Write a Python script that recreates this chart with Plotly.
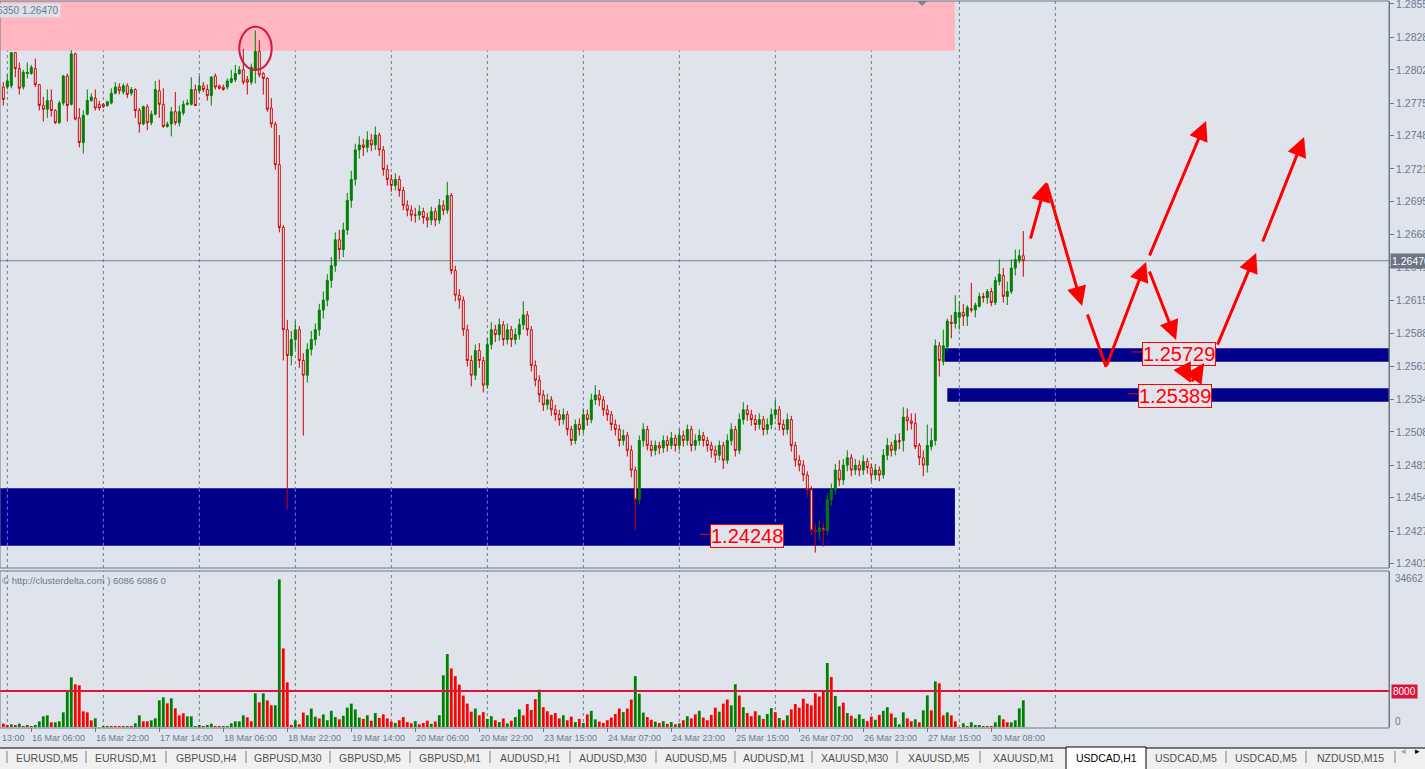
import plotly.graph_objects as go

# ---------------------------------------------------------------- data (H1 bars, index 0..255)
bar_index = list(range(256))

open_ = [
    1.2788, 1.2788, 1.2789, 1.2816, 1.2803, 1.2788, 1.2799, 1.2799, 1.2803, 1.2790,
    1.2773, 1.2770, 1.2777, 1.2769, 1.2759, 1.2775, 1.2797, 1.2774, 1.2815, 1.2763,
    1.2743, 1.2766, 1.2777, 1.2779, 1.2774, 1.2774, 1.2773, 1.2775, 1.2783, 1.2788,
    1.2784, 1.2789, 1.2783, 1.2786, 1.2769, 1.2758, 1.2772, 1.2759, 1.2766, 1.2785,
    1.2774, 1.2756, 1.2758, 1.2768, 1.2759, 1.2767, 1.2774, 1.2774, 1.2786, 1.2785,
    1.2789, 1.2786, 1.2781, 1.2797, 1.2789, 1.2788, 1.2788, 1.2792, 1.2794, 1.2799,
    1.2802, 1.2794, 1.2792, 1.2802, 1.2817, 1.2799, 1.2795, 1.2771, 1.2758, 1.2725,
    1.2674, 1.2591, 1.2570, 1.2583, 1.2591, 1.2566, 1.2554, 1.2575, 1.2583, 1.2591,
    1.2607, 1.2615, 1.2631, 1.2643, 1.2664, 1.2656, 1.2672, 1.2696, 1.2713, 1.2737,
    1.2741, 1.2739, 1.2745, 1.2741, 1.2749, 1.2737, 1.2721, 1.2713, 1.2708, 1.2713,
    1.2704, 1.2692, 1.2688, 1.2684, 1.2684, 1.2687, 1.2682, 1.2680, 1.2687, 1.2680,
    1.2692, 1.2688, 1.2700, 1.2639, 1.2619, 1.2615, 1.2591, 1.2566, 1.2554, 1.2574,
    1.2566, 1.2546, 1.2579, 1.2591, 1.2587, 1.2595, 1.2583, 1.2591, 1.2583, 1.2587,
    1.2595, 1.2603, 1.2591, 1.2562, 1.2550, 1.2538, 1.2530, 1.2534, 1.2526, 1.2522,
    1.2518, 1.2522, 1.2510, 1.2501, 1.2514, 1.2510, 1.2522, 1.2518, 1.2534, 1.2538,
    1.2534, 1.2526, 1.2522, 1.2514, 1.2510, 1.2501, 1.2505, 1.2493, 1.2477, 1.2453,
    1.2501, 1.2510, 1.2497, 1.2493, 1.2497, 1.2495, 1.2501, 1.2497, 1.2503, 1.2497,
    1.2505, 1.2501, 1.2510, 1.2497, 1.2501, 1.2505, 1.2501, 1.2497, 1.2493, 1.2489,
    1.2497, 1.2485, 1.2501, 1.2510, 1.2493, 1.2518, 1.2526, 1.2522, 1.2518, 1.2514,
    1.2518, 1.2510, 1.2514, 1.2522, 1.2526, 1.2514, 1.2510, 1.2518, 1.2497, 1.2485,
    1.2481, 1.2473, 1.2461, 1.2428, 1.2427, 1.2430, 1.2428, 1.2453, 1.2461, 1.2477,
    1.2469, 1.2481, 1.2487, 1.2477, 1.2481, 1.2477, 1.2484, 1.2479, 1.2473, 1.2477,
    1.2473, 1.2489, 1.2497, 1.2493, 1.2501, 1.2501, 1.2520, 1.2517, 1.2515, 1.2497,
    1.2487, 1.2481, 1.2496, 1.2501, 1.2578, 1.2565, 1.2577, 1.2597, 1.2596, 1.2601,
    1.2605, 1.2602, 1.2608, 1.2607, 1.2610, 1.2618, 1.2617, 1.2622, 1.2613, 1.2630,
    1.2635, 1.2618, 1.2622, 1.2641, 1.2647, 1.2651]
high = [
    1.2792, 1.2798, 1.2816, 1.2816, 1.2808, 1.2802, 1.2808, 1.2806, 1.2811, 1.2790,
    1.2780, 1.2786, 1.2786, 1.2770, 1.2777, 1.2798, 1.2799, 1.2818, 1.2816, 1.2771,
    1.2769, 1.2786, 1.2783, 1.2786, 1.2777, 1.2775, 1.2777, 1.2787, 1.2792, 1.2791,
    1.2791, 1.2791, 1.2788, 1.2787, 1.2771, 1.2773, 1.2774, 1.2769, 1.2793, 1.2794,
    1.2787, 1.2760, 1.2772, 1.2784, 1.2773, 1.2777, 1.2778, 1.2796, 1.2790, 1.2797,
    1.2792, 1.2790, 1.2797, 1.2799, 1.2790, 1.2790, 1.2795, 1.2802, 1.2806, 1.2805,
    1.2819, 1.2797, 1.2807, 1.2834, 1.2826, 1.2800, 1.2796, 1.2779, 1.2760, 1.2749,
    1.2676, 1.2599, 1.2590, 1.2598, 1.2594, 1.2572, 1.2580, 1.2590, 1.2596, 1.2612,
    1.2622, 1.2636, 1.2650, 1.2670, 1.2672, 1.2678, 1.2702, 1.2720, 1.2742, 1.2748,
    1.2746, 1.2752, 1.2750, 1.2756, 1.2751, 1.2740, 1.2725, 1.2717, 1.2718, 1.2716,
    1.2707, 1.2696, 1.2692, 1.2690, 1.2692, 1.2690, 1.2686, 1.2691, 1.2690, 1.2697,
    1.2696, 1.2711, 1.2702, 1.2643, 1.2624, 1.2618, 1.2595, 1.2570, 1.2579, 1.2580,
    1.2569, 1.2584, 1.2597, 1.2595, 1.2600, 1.2598, 1.2596, 1.2594, 1.2592, 1.2600,
    1.2614, 1.2606, 1.2594, 1.2566, 1.2554, 1.2542, 1.2539, 1.2537, 1.2530, 1.2526,
    1.2527, 1.2525, 1.2513, 1.2518, 1.2519, 1.2527, 1.2526, 1.2539, 1.2546, 1.2542,
    1.2537, 1.2530, 1.2525, 1.2518, 1.2514, 1.2510, 1.2508, 1.2497, 1.2480, 1.2505,
    1.2515, 1.2513, 1.2501, 1.2501, 1.2500, 1.2505, 1.2505, 1.2508, 1.2506, 1.2510,
    1.2509, 1.2514, 1.2513, 1.2506, 1.2510, 1.2508, 1.2504, 1.2500, 1.2497, 1.2501,
    1.2500, 1.2506, 1.2515, 1.2513, 1.2523, 1.2532, 1.2530, 1.2526, 1.2522, 1.2523,
    1.2521, 1.2519, 1.2527, 1.2534, 1.2529, 1.2518, 1.2523, 1.2521, 1.2500, 1.2489,
    1.2485, 1.2476, 1.2464, 1.2433, 1.2436, 1.2434, 1.2458, 1.2466, 1.2482, 1.2485,
    1.2486, 1.2493, 1.2490, 1.2486, 1.2485, 1.2489, 1.2487, 1.2482, 1.2482, 1.2480,
    1.2494, 1.2503, 1.2500, 1.2506, 1.2507, 1.2528, 1.2527, 1.2523, 1.2523, 1.2499,
    1.2493, 1.2514, 1.2511, 1.2583, 1.2581, 1.2591, 1.2600, 1.2603, 1.2619, 1.2614,
    1.2612, 1.2611, 1.2629, 1.2613, 1.2621, 1.2621, 1.2624, 1.2625, 1.2634, 1.2648,
    1.2641, 1.2630, 1.2648, 1.2656, 1.2656, 1.2671]
low = [
    1.2773, 1.2786, 1.2787, 1.2796, 1.2782, 1.2786, 1.2795, 1.2798, 1.2788, 1.2769,
    1.2760, 1.2763, 1.2764, 1.2758, 1.2758, 1.2773, 1.2760, 1.2773, 1.2761, 1.2739,
    1.2734, 1.2765, 1.2776, 1.2769, 1.2769, 1.2771, 1.2772, 1.2774, 1.2782, 1.2782,
    1.2782, 1.2779, 1.2781, 1.2763, 1.2751, 1.2757, 1.2753, 1.2757, 1.2765, 1.2763,
    1.2755, 1.2755, 1.2748, 1.2757, 1.2756, 1.2765, 1.2773, 1.2773, 1.2773, 1.2783,
    1.2784, 1.2777, 1.2773, 1.2786, 1.2786, 1.2785, 1.2786, 1.2791, 1.2792, 1.2798,
    1.2790, 1.2782, 1.2790, 1.2791, 1.2796, 1.2782, 1.2768, 1.2755, 1.2721, 1.2670,
    1.2566, 1.2445, 1.2562, 1.2575, 1.2560, 1.2505, 1.2548, 1.2570, 1.2578, 1.2586,
    1.2600, 1.2610, 1.2625, 1.2638, 1.2648, 1.2650, 1.2668, 1.2690, 1.2708, 1.2730,
    1.2732, 1.2735, 1.2736, 1.2737, 1.2732, 1.2716, 1.2708, 1.2703, 1.2704, 1.2699,
    1.2688, 1.2683, 1.2679, 1.2678, 1.2680, 1.2677, 1.2674, 1.2676, 1.2675, 1.2677,
    1.2684, 1.2685, 1.2636, 1.2614, 1.2608, 1.2586, 1.2561, 1.2545, 1.2550, 1.2560,
    1.2540, 1.2543, 1.2575, 1.2581, 1.2582, 1.2578, 1.2579, 1.2577, 1.2579, 1.2583,
    1.2591, 1.2586, 1.2557, 1.2545, 1.2532, 1.2525, 1.2526, 1.2521, 1.2517, 1.2513,
    1.2514, 1.2505, 1.2497, 1.2498, 1.2505, 1.2507, 1.2513, 1.2515, 1.2530, 1.2529,
    1.2521, 1.2517, 1.2509, 1.2505, 1.2496, 1.2497, 1.2488, 1.2471, 1.2428, 1.2449,
    1.2496, 1.2493, 1.2488, 1.2489, 1.2490, 1.2491, 1.2492, 1.2494, 1.2492, 1.2493,
    1.2496, 1.2497, 1.2492, 1.2493, 1.2497, 1.2496, 1.2492, 1.2487, 1.2483, 1.2485,
    1.2478, 1.2482, 1.2497, 1.2488, 1.2490, 1.2514, 1.2517, 1.2513, 1.2509, 1.2510,
    1.2505, 1.2506, 1.2510, 1.2518, 1.2509, 1.2505, 1.2506, 1.2492, 1.2480, 1.2476,
    1.2468, 1.2455, 1.2424, 1.2410, 1.2420, 1.2415, 1.2424, 1.2448, 1.2457, 1.2464,
    1.2465, 1.2476, 1.2472, 1.2473, 1.2472, 1.2473, 1.2474, 1.2468, 1.2469, 1.2468,
    1.2470, 1.2485, 1.2488, 1.2489, 1.2494, 1.2492, 1.2509, 1.2510, 1.2494, 1.2481,
    1.2472, 1.2475, 1.2493, 1.2497, 1.2553, 1.2562, 1.2574, 1.2584, 1.2592, 1.2591,
    1.2594, 1.2594, 1.2605, 1.2601, 1.2609, 1.2613, 1.2612, 1.2610, 1.2611, 1.2627,
    1.2613, 1.2611, 1.2620, 1.2635, 1.2645, 1.2634]
close = [
    1.2778, 1.2793, 1.2816, 1.2803, 1.2787, 1.2800, 1.2800, 1.2804, 1.2790, 1.2773,
    1.2770, 1.2777, 1.2769, 1.2759, 1.2775, 1.2797, 1.2773, 1.2815, 1.2762, 1.2743,
    1.2765, 1.2777, 1.2780, 1.2771, 1.2771, 1.2772, 1.2776, 1.2783, 1.2788, 1.2785,
    1.2789, 1.2782, 1.2786, 1.2769, 1.2758, 1.2772, 1.2759, 1.2766, 1.2786, 1.2774,
    1.2756, 1.2758, 1.2768, 1.2759, 1.2768, 1.2774, 1.2775, 1.2786, 1.2773, 1.2789,
    1.2786, 1.2781, 1.2796, 1.2788, 1.2787, 1.2786, 1.2793, 1.2795, 1.2799, 1.2802,
    1.2792, 1.2792, 1.2804, 1.2817, 1.2798, 1.2795, 1.2770, 1.2758, 1.2725, 1.2674,
    1.2591, 1.2570, 1.2583, 1.2591, 1.2566, 1.2554, 1.2575, 1.2583, 1.2591, 1.2607,
    1.2615, 1.2631, 1.2643, 1.2664, 1.2656, 1.2672, 1.2696, 1.2713, 1.2737, 1.2741,
    1.2739, 1.2745, 1.2741, 1.2749, 1.2737, 1.2721, 1.2713, 1.2708, 1.2713, 1.2704,
    1.2692, 1.2688, 1.2684, 1.2684, 1.2687, 1.2682, 1.2680, 1.2687, 1.2680, 1.2692,
    1.2688, 1.2700, 1.2639, 1.2619, 1.2615, 1.2591, 1.2566, 1.2554, 1.2574, 1.2566,
    1.2546, 1.2579, 1.2591, 1.2587, 1.2595, 1.2583, 1.2591, 1.2583, 1.2587, 1.2595,
    1.2603, 1.2591, 1.2562, 1.2550, 1.2538, 1.2530, 1.2534, 1.2526, 1.2522, 1.2518,
    1.2522, 1.2510, 1.2501, 1.2514, 1.2510, 1.2522, 1.2518, 1.2534, 1.2538, 1.2534,
    1.2526, 1.2522, 1.2514, 1.2510, 1.2501, 1.2505, 1.2493, 1.2477, 1.2453, 1.2501,
    1.2510, 1.2497, 1.2493, 1.2497, 1.2495, 1.2501, 1.2497, 1.2503, 1.2497, 1.2505,
    1.2501, 1.2510, 1.2497, 1.2501, 1.2505, 1.2501, 1.2497, 1.2493, 1.2489, 1.2497,
    1.2485, 1.2501, 1.2510, 1.2493, 1.2518, 1.2526, 1.2522, 1.2518, 1.2514, 1.2518,
    1.2510, 1.2514, 1.2522, 1.2526, 1.2514, 1.2510, 1.2518, 1.2497, 1.2485, 1.2481,
    1.2473, 1.2461, 1.2428, 1.2427, 1.2430, 1.2428, 1.2453, 1.2461, 1.2477, 1.2469,
    1.2481, 1.2487, 1.2477, 1.2481, 1.2477, 1.2484, 1.2479, 1.2473, 1.2477, 1.2473,
    1.2489, 1.2497, 1.2493, 1.2501, 1.2500, 1.2520, 1.2517, 1.2515, 1.2496, 1.2487,
    1.2481, 1.2497, 1.2501, 1.2578, 1.2566, 1.2578, 1.2598, 1.2596, 1.2605, 1.2605,
    1.2602, 1.2609, 1.2607, 1.2611, 1.2618, 1.2617, 1.2622, 1.2613, 1.2631, 1.2636,
    1.2618, 1.2622, 1.2641, 1.2648, 1.2651, 1.2647]

volume = [
    750, 370, 600, 370, 750, 220, 370, 50, 370, 1260,
    2370, 2590, 1040, 1040, 1260, 3260, 7770, 11030, 9480, 9260,
    3480, 3260, 1480, 1930, 0, 100, 150, 150, 150, 150,
    150, 150, 50, 820, 2590, 1260, 1260, 1480, 1930, 5920,
    6590, 5260, 6370, 4150, 2590, 3040, 2370, 2370, 30, 370,
    150, 370, 750, 150, 150, 50, 150, 820, 1260, 1260,
    2590, 2150, 1260, 7480, 5480, 7480, 5920, 4820, 4820, 32790,
    17470, 9920, 300, 1480, 600, 3200, 2600, 4100, 2300, 1900,
    2800, 1500, 3600, 2200, 1700, 2500, 4300, 5200, 3900, 2100,
    1800, 2600, 1400, 3100, 2000, 2800, 1900, 1200, 900, 1500,
    2200, 1100, 800, 1300, 600, 900, 1400, 700, 1200, 2600,
    11500, 16200, 13000, 11300, 9400, 7000, 5200, 3400, 4100, 2600,
    3300, 1800, 2400, 1500, 1100, 1900, 800, 1400, 2200, 3900,
    2600, 5100, 3800, 6200, 8300, 4400, 3500, 2700, 3100, 1900,
    2600, 1500, 2300, 1100, 1800, 900, 2800, 3600, 1700, 1200,
    900, 1500, 2100, 2900, 4100, 3300, 4100, 6100, 11300, 7400,
    3200, 2200, 1600, 1200, 900, 1300, 700, 1100, 600, 800,
    1500, 2400, 1900, 2800, 3600, 2100, 1500, 2700, 4300, 3400,
    5200, 6100, 4800, 9500, 7000, 4400, 3100, 2400, 3500, 2600,
    1800, 2900, 4200, 3300, 2000, 1500, 2600, 3900, 5100, 4300,
    6300, 5200, 4800, 7500, 6800, 8200, 14200, 11100, 6900, 4600,
    5400, 3100, 2500, 1900, 2800, 1800, 1300, 2300, 1600, 2700,
    3600, 4400, 3000, 2100, 600, 3260, 1930, 1260, 1710, 1040,
    3700, 7030, 3700, 10140, 9700, 2590, 3260, 2590, 1260, 0,
    820, 50, 1040, 370, 370, 50, 150, 150, 1040, 2590,
    1710, 1040, 1040, 1480, 4150, 5920]
# b = buy-dominated bar (green), s = sell-dominated bar (red)
vol_side = ("ssbsbsbsbb" "bbsbbbbbss" "sssbbbbsss" "sbsbbssbbb" "bsbsssbbbb" "sbbssbbbbb"
            "bssbsbssbb" "sssbs"
            "sbbbsbbbbs" "bbbbbsbsbs" "sssbssssbs" "ssbsbbbsss" "sssbssbbsb" "sbsbbssssb"
            "sssssbssbs" "bsbbssssss" "bssbbbssbs" "bsbsbsbssb" "ssssbssbbs" "bsssbsbbsb"
            "sbssssssss" "sbsbbsbsbb" "bssbsbbsb"
            "bbssbsbbsb" "ssbssbbsbb" "bsbsbbssbb" "bb")

price_ticks = [1.28555, 1.28285, 1.28020, 1.27750, 1.27485, 1.27215, 1.26950, 1.26685, 1.26415,
               1.26150, 1.25880, 1.25615, 1.25345, 1.25080, 1.24810, 1.24545, 1.24275, 1.24010]
last_price = 1.26470
vol_max = 34662
vol_level = 8000

time_label_bars = [7, 23, 39, 55, 71, 87, 103, 119, 135, 151, 167, 183, 199, 215, 231, 247]
time_labels = ["16 Mar 06:00", "16 Mar 22:00", "17 Mar 14:00", "18 Mar 06:00", "18 Mar 22:00",
               "19 Mar 14:00", "20 Mar 06:00", "20 Mar 22:00", "23 Mar 15:00", "24 Mar 07:00",
               "24 Mar 23:00", "25 Mar 15:00", "26 Mar 07:00", "26 Mar 23:00", "27 Mar 15:00",
               "30 Mar 08:00"]
day_sep_bars = [1, 25, 49, 73, 97, 121, 145, 169, 193, 217, 239, 263]

# zones: (first bar, last bar, low price, high price)
supply_zone = (-2, 237.9, 1.28175, 1.2870)
demand_zone = (-2, 237.9, 1.24156, 1.24622)
band_zones = [(235.4, 400, 1.25650, 1.25759), (236.0, 400, 1.25325, 1.25434)]

# price labels: (value, left bar of box, bar where the leader dash starts)
level_labels = [(1.25729, 284.75, 282.2), (1.25389, 283.7, 281.2), (1.24248, 176.75, 174.2)]

# marked top (ellipse)
top_mark = (59.0, 67.1, 1.28019, 1.28370)

# forecast path: (bar, price) points, and segments (from, to, arrowhead)
path_pts = {
    "A": (256.7, 1.26638), "B": (260.7, 1.27109), "C": (269.7, 1.26102), "D": (270.9, 1.26045),
    "E": (275.7, 1.25607), "F": (285.7, 1.26460), "G": (286.4, 1.26500), "H": (300.7, 1.27604),
    "I": (286.4, 1.26395), "J": (293.2, 1.25826), "K": (294.9, 1.25607), "L": (296.9, 1.25477),
    "M": (300.2, 1.25639), "N": (303.4, 1.25777), "O": (313.2, 1.26533), "P": (314.7, 1.26614),
    "Q": (325.2, 1.27475),
}
path_segments = [("A", "B", True), ("B", "C", True), ("D", "E", False), ("E", "F", True),
                 ("G", "H", True), ("I", "J", True), ("K", "L", True), ("L", "M", True),
                 ("N", "O", True), ("P", "Q", True)]

tabs = ["EURUSD,M5", "EURUSD,M1", "GBPUSD,H4", "GBPUSD,M30", "GBPUSD,M5", "GBPUSD,M1",
        "AUDUSD,H1", "AUDUSD,M30", "AUDUSD,M5", "AUDUSD,M1", "XAUUSD,M30", "XAUUSD,M5",
        "XAUUSD,M1", "USDCAD,H1", "USDCAD,M5", "USDCAD,M5", "NZDUSD,M15"]
active_tab = 13

# ---------------------------------------------------------------- geometry / style
FIG_W, FIG_H = 1425, 769
AX_R = 1389
BAR0_PX, BAR_PX = 3.3, 4.0
PRICE_TOP, PRICE_PER_PX = 1.28587, 0.0000812
tab_edges = [7, 86, 166, 246, 330, 410, 490, 570, 656, 735, 812, 897, 980, 1066, 1146, 1226, 1306, 1395]

BG = "#dfe3eb"
AXC = "#6b7a8f"
FRAME = "#6d7888"
GRID = "#6f7787"
GREEN = "#008000"
CRED = "#c80000"
VRED = "#ff0000"
NAVY = "#00008b"
PINK = "#ffb6c1"
CRIMSON = "#dc143c"
FONT = "Liberation Sans"


def px(p):
    return p / AX_R


def py(p):
    return 1 - p / FIG_H


def bar_at(p):
    return (p - BAR0_PX) / BAR_PX


def price_at(p):
    return PRICE_TOP - PRICE_PER_PX * p


fig = go.Figure()
fig.add_trace(go.Candlestick(
    x=bar_index, open=open_, high=high, low=low, close=close,
    increasing=dict(line=dict(color=GREEN, width=1), fillcolor=GREEN),
    decreasing=dict(line=dict(color=CRED, width=1), fillcolor="#ffffff"),
    whiskerwidth=0, hoverinfo="skip", xaxis="x", yaxis="y"))
fig.add_trace(go.Bar(
    x=bar_index, y=volume, width=0.7,
    marker=dict(color=[GREEN if s == "b" else VRED for s in vol_side], line=dict(width=0)),
    hoverinfo="skip", xaxis="x", yaxis="y2"))

shapes = []
for (x0, x1, y0, y1), col in [(supply_zone, PINK), (demand_zone, NAVY)] + [(b, NAVY) for b in band_zones]:
    shapes.append(dict(type="rect", xref="x", yref="y", x0=x0, x1=x1, y0=y0, y1=y1,
                       fillcolor=col, line=dict(width=0), layer="below"))
shapes.append(dict(type="line", xref="paper", yref="y", x0=0, x1=1, y0=last_price, y1=last_price,
                   line=dict(color="#7b8391", width=1), layer="below"))
for b in day_sep_bars:
    shapes.append(dict(type="line", xref="x", yref="paper", x0=b, x1=b, y0=py(568), y1=py(1),
                       line=dict(color=GRID, width=1, dash="3px,3px"), layer="below"))
    shapes.append(dict(type="line", xref="x", yref="paper", x0=b, x1=b, y0=py(728), y1=py(571),
                       line=dict(color=GRID, width=1, dash="3px,3px"), layer="below"))
    for z in [demand_zone] + band_zones:
        if z[0] <= b <= z[1]:
            shapes.append(dict(type="line", xref="x", yref="y", x0=b, x1=b, y0=z[2], y1=z[3],
                               line=dict(color="#8a6dff", width=1, dash="3px,3px"), layer="below"))
shapes.append(dict(type="line", xref="paper", yref="y2", x0=0, x1=1, y0=vol_level, y1=vol_level,
                   line=dict(color=CRIMSON, width=2)))
shapes.append(dict(type="rect", xref="paper", yref="paper", x0=0, x1=1, y0=py(568), y1=py(1),
                   line=dict(color=FRAME, width=1)))
shapes.append(dict(type="rect", xref="paper", yref="paper", x0=0, x1=1, y0=py(728), y1=py(571),
                   line=dict(color=FRAME, width=1)))
shapes.append(dict(type="circle", xref="x", yref="y", x0=top_mark[0], x1=top_mark[1],
                   y0=top_mark[2], y1=top_mark[3], line=dict(color=CRIMSON, width=2)))
for val, xb, xd in level_labels:
    shapes.append(dict(type="line", xref="x", yref="y", x0=xd, x1=xb, y0=val, y1=val,
                       line=dict(color=VRED, width=1)))
shapes.append(dict(type="path", xref="paper", yref="paper",
                   path=f"M {px(917)},{py(1)} L {px(927)},{py(1)} L {px(922)},{py(6)} Z",
                   fillcolor="#7b8391", line=dict(width=0)))
shapes.append(dict(type="rect", xref="paper", yref="paper", x0=0, x1=px(FIG_W), y0=0, y1=py(748),
                   fillcolor="#f0f0f0", line=dict(width=0)))
shapes.append(dict(type="line", xref="paper", yref="paper", x0=0, x1=px(FIG_W), y0=py(748), y1=py(748),
                   line=dict(color="#000000", width=1)))
shapes.append(dict(type="rect", xref="paper", yref="paper",
                   x0=px(tab_edges[active_tab]), x1=px(tab_edges[active_tab + 1]),
                   y0=py(770), y1=py(747), fillcolor="#ffffff", line=dict(color="#000000", width=1)))
for k, e in enumerate(tab_edges):
    if k in (active_tab, active_tab + 1):
        continue
    shapes.append(dict(type="line", xref="paper", yref="paper", x0=px(e), x1=px(e),
                       y0=py(763), y1=py(751), line=dict(color="#808080", width=1)))

annotations = []
annotations.append(dict(x=0, xref="paper", y=py(738), yref="paper", xanchor="left", yanchor="middle",
                        text="13:00", showarrow=False, font=dict(family=FONT, size=9, color=AXC)))
for b, t in zip(time_label_bars, time_labels):
    annotations.append(dict(x=b, xref="x", y=py(738), yref="paper", xanchor="left", yanchor="middle",
                            text=t, showarrow=False, xshift=-1, font=dict(family=FONT, size=9, color=AXC)))
annotations.append(dict(x=px(1390), xref="paper", y=last_price, yref="y", xanchor="left", yanchor="middle",
                        text=f"{last_price:.5f}", showarrow=False, bgcolor="#6b7584", borderpad=1,
                        font=dict(family=FONT, size=10.5, color="#ffffff")))
annotations.append(dict(x=px(1393), xref="paper", y=py(578), yref="paper", xanchor="left", yanchor="middle",
                        text=str(vol_max), showarrow=False, font=dict(family=FONT, size=10, color=AXC)))
annotations.append(dict(x=px(1391), xref="paper", y=vol_level, yref="y2", xanchor="left", yanchor="middle",
                        text=str(vol_level), showarrow=False, bgcolor=CRIMSON, borderpad=1,
                        font=dict(family=FONT, size=10, color="#ffffff")))
annotations.append(dict(x=px(1393), xref="paper", y=py(721), yref="paper", xanchor="left", yanchor="middle",
                        text="0", showarrow=False, font=dict(family=FONT, size=10, color=AXC)))
annotations.append(dict(x=0, xref="paper", y=py(580), yref="paper", xanchor="left", yanchor="middle",
                        text="© http://clusterdelta.com ) 6086 6086 0", showarrow=False,
                        font=dict(family=FONT, size=9.5, color=AXC)))
annotations.append(dict(x=px(61), xref="paper", y=py(10), yref="paper", xanchor="right", yanchor="middle",
                        text="1.26350 1.26470", showarrow=False, bgcolor="#dde1e9",
                        font=dict(family=FONT, size=10, color=AXC)))
for val, xb, xd in level_labels:
    annotations.append(dict(x=xb, xref="x", y=val, yref="y", xanchor="left", yanchor="middle",
                            text=f"{val:.5f}", showarrow=False, yshift=-2, bgcolor=BG,
                            bordercolor=VRED, borderwidth=1, borderpad=0,
                            font=dict(family=FONT, size=20, color=VRED)))
for a, b, head in path_segments:
    (xa, ya), (xb_, yb) = path_pts[a], path_pts[b]
    annotations.append(dict(x=xb_, y=yb, xref="x", yref="y", ax=xa, ay=ya, axref="x", ayref="y",
                            text="", showarrow=True, arrowhead=2 if head else 0, arrowsize=1.3,
                            arrowwidth=3, arrowcolor=VRED, standoff=0, startstandoff=0))
for k, t in enumerate(tabs):
    cx = (tab_edges[k] + tab_edges[k + 1]) / 2
    annotations.append(dict(x=px(cx), xref="paper", y=py(758), yref="paper", xanchor="center",
                            yanchor="middle", text=t, showarrow=False,
                            font=dict(family=FONT, size=10.5,
                                      color="#000000" if k == active_tab else "#505050")))
annotations.append(dict(x=px(1408), xref="paper", y=py(758), yref="paper", text="◂", showarrow=False,
                        font=dict(family=FONT, size=9, color="#a0a0a0")))
annotations.append(dict(x=px(1422), xref="paper", y=py(758), yref="paper", text="▸", showarrow=False,
                        font=dict(family=FONT, size=9, color="#000000")))

fig.update_layout(
    width=FIG_W, height=FIG_H, margin=dict(l=0, r=FIG_W - AX_R, t=0, b=0, pad=0, autoexpand=False),
    paper_bgcolor=BG, plot_bgcolor=BG, showlegend=False,
    font=dict(family=FONT, size=9, color=AXC),
    xaxis=dict(range=[bar_at(0), bar_at(AX_R)], anchor="y2", showgrid=False, zeroline=False,
               showticklabels=False, ticks="outside", ticklen=4, tickcolor=FRAME,
               tickvals=time_label_bars, showline=False, rangeslider=dict(visible=False),
               fixedrange=True, automargin=False),
    yaxis=dict(domain=[py(568), py(1)], range=[price_at(568), price_at(1)], side="right",
               showgrid=False, zeroline=False, tickvals=price_ticks,
               ticktext=[f"{v:.5f}" for v in price_ticks], ticks="outside", ticklen=4,
               tickcolor=FRAME, showline=True, linecolor=FRAME, ticklabeloverflow="allow",
               tickfont=dict(family=FONT, size=10.5, color=AXC), fixedrange=True, automargin=False),
    yaxis2=dict(domain=[py(727), py(571)], range=[0, vol_max], side="right", showgrid=False,
                zeroline=False, showticklabels=False, showline=True, linecolor=FRAME,
                fixedrange=True, automargin=False),
    shapes=shapes, annotations=annotations,
)

fig.write_html("out.html", config={"displayModeBar": False},
               post_script="document.body.style.margin='0';document.body.style.overflow='hidden';")
